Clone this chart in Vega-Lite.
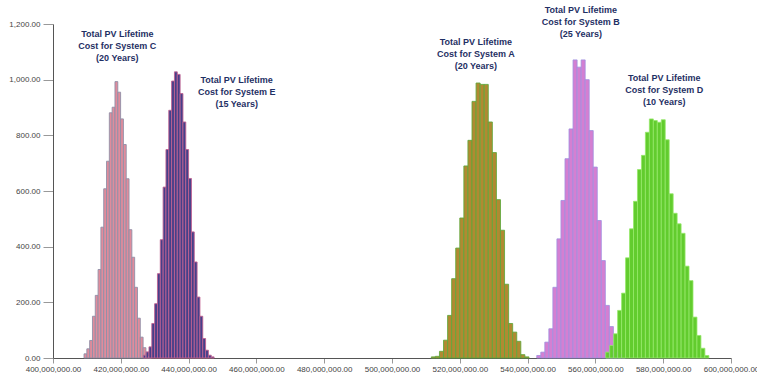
{
  "$schema": "https://vega.github.io/schema/vega-lite/v6.json",
  "width": 678,
  "height": 334,
  "autosize": {"type": "none"},
  "padding": {"left": 53, "top": 24, "right": 26, "bottom": 22},
  "background": "white",
  "config": {
    "view": {"stroke": null},
    "font": "Liberation Sans",
    "axis": {"grid": false, "labelFont": "Liberation Sans", "labelFontSize": 8, "labelColor": "#444444", "domainColor": "#555555", "tickColor": "#999999", "title": null}
  },
  "datasets": {
    "bins": [
      {"system": "C", "lo": 409150000, "hi": 409980000, "count": 15},
      {"system": "C", "lo": 409980000, "hi": 410810000, "count": 33},
      {"system": "C", "lo": 410810000, "hi": 411640000, "count": 63},
      {"system": "C", "lo": 411640000, "hi": 412470000, "count": 150},
      {"system": "C", "lo": 412470000, "hi": 413300000, "count": 225},
      {"system": "C", "lo": 413300000, "hi": 414130000, "count": 318},
      {"system": "C", "lo": 414130000, "hi": 414960000, "count": 470},
      {"system": "C", "lo": 414960000, "hi": 415790000, "count": 608},
      {"system": "C", "lo": 415790000, "hi": 416620000, "count": 707},
      {"system": "C", "lo": 416620000, "hi": 417450000, "count": 881},
      {"system": "C", "lo": 417450000, "hi": 418280000, "count": 901},
      {"system": "C", "lo": 418280000, "hi": 419110000, "count": 993},
      {"system": "C", "lo": 419110000, "hi": 419940000, "count": 955},
      {"system": "C", "lo": 419940000, "hi": 420770000, "count": 859},
      {"system": "C", "lo": 420770000, "hi": 421600000, "count": 767},
      {"system": "C", "lo": 421600000, "hi": 422430000, "count": 644},
      {"system": "C", "lo": 422430000, "hi": 423260000, "count": 461},
      {"system": "C", "lo": 423260000, "hi": 424090000, "count": 362},
      {"system": "C", "lo": 424090000, "hi": 424920000, "count": 254},
      {"system": "C", "lo": 424920000, "hi": 425750000, "count": 143},
      {"system": "C", "lo": 425750000, "hi": 426580000, "count": 75},
      {"system": "C", "lo": 426580000, "hi": 427410000, "count": 37},
      {"system": "C", "lo": 427410000, "hi": 428240000, "count": 15},
      {"system": "C", "lo": 428240000, "hi": 429070000, "count": 6},
      {"system": "E", "lo": 426640000, "hi": 427475000, "count": 10},
      {"system": "E", "lo": 427475000, "hi": 428310000, "count": 22},
      {"system": "E", "lo": 428310000, "hi": 429145000, "count": 40},
      {"system": "E", "lo": 429145000, "hi": 429980000, "count": 124},
      {"system": "E", "lo": 429980000, "hi": 430815000, "count": 195},
      {"system": "E", "lo": 430815000, "hi": 431650000, "count": 303},
      {"system": "E", "lo": 431650000, "hi": 432485000, "count": 425},
      {"system": "E", "lo": 432485000, "hi": 433320000, "count": 614},
      {"system": "E", "lo": 433320000, "hi": 434155000, "count": 749},
      {"system": "E", "lo": 434155000, "hi": 434990000, "count": 890},
      {"system": "E", "lo": 434990000, "hi": 435825000, "count": 995},
      {"system": "E", "lo": 435825000, "hi": 436660000, "count": 1028},
      {"system": "E", "lo": 436660000, "hi": 437495000, "count": 1019},
      {"system": "E", "lo": 437495000, "hi": 438330000, "count": 950},
      {"system": "E", "lo": 438330000, "hi": 439165000, "count": 848},
      {"system": "E", "lo": 439165000, "hi": 440000000, "count": 749},
      {"system": "E", "lo": 440000000, "hi": 440835000, "count": 645},
      {"system": "E", "lo": 440835000, "hi": 441670000, "count": 453},
      {"system": "E", "lo": 441670000, "hi": 442505000, "count": 345},
      {"system": "E", "lo": 442505000, "hi": 443340000, "count": 219},
      {"system": "E", "lo": 443340000, "hi": 444175000, "count": 150},
      {"system": "E", "lo": 444175000, "hi": 445010000, "count": 70},
      {"system": "E", "lo": 445010000, "hi": 445845000, "count": 28},
      {"system": "E", "lo": 445845000, "hi": 446680000, "count": 10},
      {"system": "E", "lo": 446680000, "hi": 447515000, "count": 4},
      {"system": "A", "lo": 511600000, "hi": 512800000, "count": 4},
      {"system": "A", "lo": 512800000, "hi": 514000000, "count": 6},
      {"system": "A", "lo": 514000000, "hi": 515200000, "count": 24},
      {"system": "A", "lo": 515200000, "hi": 516400000, "count": 64},
      {"system": "A", "lo": 516400000, "hi": 517600000, "count": 153},
      {"system": "A", "lo": 517600000, "hi": 518800000, "count": 285},
      {"system": "A", "lo": 518800000, "hi": 520000000, "count": 395},
      {"system": "A", "lo": 520000000, "hi": 521200000, "count": 503},
      {"system": "A", "lo": 521200000, "hi": 522400000, "count": 690},
      {"system": "A", "lo": 522400000, "hi": 523600000, "count": 782},
      {"system": "A", "lo": 523600000, "hi": 524800000, "count": 922},
      {"system": "A", "lo": 524800000, "hi": 526000000, "count": 988},
      {"system": "A", "lo": 526000000, "hi": 527200000, "count": 983},
      {"system": "A", "lo": 527200000, "hi": 528400000, "count": 983},
      {"system": "A", "lo": 528400000, "hi": 529600000, "count": 848},
      {"system": "A", "lo": 529600000, "hi": 530800000, "count": 738},
      {"system": "A", "lo": 530800000, "hi": 532000000, "count": 569},
      {"system": "A", "lo": 532000000, "hi": 533200000, "count": 459},
      {"system": "A", "lo": 533200000, "hi": 534400000, "count": 265},
      {"system": "A", "lo": 534400000, "hi": 535600000, "count": 124},
      {"system": "A", "lo": 535600000, "hi": 536800000, "count": 93},
      {"system": "A", "lo": 536800000, "hi": 538000000, "count": 60},
      {"system": "A", "lo": 538000000, "hi": 539200000, "count": 12},
      {"system": "A", "lo": 539200000, "hi": 540400000, "count": 4},
      {"system": "B", "lo": 542700000, "hi": 543890000, "count": 9},
      {"system": "B", "lo": 543890000, "hi": 545080000, "count": 21},
      {"system": "B", "lo": 545080000, "hi": 546270000, "count": 57},
      {"system": "B", "lo": 546270000, "hi": 547460000, "count": 105},
      {"system": "B", "lo": 547460000, "hi": 548650000, "count": 254},
      {"system": "B", "lo": 548650000, "hi": 549840000, "count": 428},
      {"system": "B", "lo": 549840000, "hi": 551030000, "count": 566},
      {"system": "B", "lo": 551030000, "hi": 552220000, "count": 716},
      {"system": "B", "lo": 552220000, "hi": 553410000, "count": 823},
      {"system": "B", "lo": 553410000, "hi": 554600000, "count": 1071},
      {"system": "B", "lo": 554600000, "hi": 555790000, "count": 1045},
      {"system": "B", "lo": 555790000, "hi": 556980000, "count": 1071},
      {"system": "B", "lo": 556980000, "hi": 558170000, "count": 1000},
      {"system": "B", "lo": 558170000, "hi": 559360000, "count": 817},
      {"system": "B", "lo": 559360000, "hi": 560550000, "count": 686},
      {"system": "B", "lo": 560550000, "hi": 561740000, "count": 494},
      {"system": "B", "lo": 561740000, "hi": 562930000, "count": 350},
      {"system": "B", "lo": 562930000, "hi": 564120000, "count": 189},
      {"system": "B", "lo": 564120000, "hi": 565310000, "count": 113},
      {"system": "B", "lo": 565310000, "hi": 566500000, "count": 51},
      {"system": "B", "lo": 566500000, "hi": 567690000, "count": 21},
      {"system": "B", "lo": 567690000, "hi": 568880000, "count": 13},
      {"system": "D", "lo": 563050000, "hi": 564220000, "count": 21},
      {"system": "D", "lo": 564220000, "hi": 565390000, "count": 45},
      {"system": "D", "lo": 565390000, "hi": 566560000, "count": 87},
      {"system": "D", "lo": 566560000, "hi": 567730000, "count": 171},
      {"system": "D", "lo": 567730000, "hi": 568900000, "count": 233},
      {"system": "D", "lo": 568900000, "hi": 570070000, "count": 360},
      {"system": "D", "lo": 570070000, "hi": 571240000, "count": 464},
      {"system": "D", "lo": 571240000, "hi": 572410000, "count": 563},
      {"system": "D", "lo": 572410000, "hi": 573580000, "count": 677},
      {"system": "D", "lo": 573580000, "hi": 574750000, "count": 728},
      {"system": "D", "lo": 574750000, "hi": 575920000, "count": 811},
      {"system": "D", "lo": 575920000, "hi": 577090000, "count": 859},
      {"system": "D", "lo": 577090000, "hi": 578260000, "count": 853},
      {"system": "D", "lo": 578260000, "hi": 579430000, "count": 847},
      {"system": "D", "lo": 579430000, "hi": 580600000, "count": 856},
      {"system": "D", "lo": 580600000, "hi": 581770000, "count": 784},
      {"system": "D", "lo": 581770000, "hi": 582940000, "count": 590},
      {"system": "D", "lo": 582940000, "hi": 584110000, "count": 520},
      {"system": "D", "lo": 584110000, "hi": 585280000, "count": 482},
      {"system": "D", "lo": 585280000, "hi": 586450000, "count": 448},
      {"system": "D", "lo": 586450000, "hi": 587620000, "count": 330},
      {"system": "D", "lo": 587620000, "hi": 588790000, "count": 278},
      {"system": "D", "lo": 588790000, "hi": 589960000, "count": 147},
      {"system": "D", "lo": 589960000, "hi": 591130000, "count": 81},
      {"system": "D", "lo": 591130000, "hi": 592300000, "count": 35},
      {"system": "D", "lo": 592300000, "hi": 593470000, "count": 9}
    ],
    "labels": [
      {"system": "C", "x": 418970000, "y": 1178, "label": "Total PV Lifetime\nCost for System C\n(20 Years)"},
      {"system": "E", "x": 454190000, "y": 1013, "label": "Total PV Lifetime\nCost for System E\n(15 Years)"},
      {"system": "A", "x": 524730000, "y": 1151, "label": "Total PV Lifetime\nCost for System A\n(20 Years)"},
      {"system": "B", "x": 555700000, "y": 1265, "label": "Total PV Lifetime\nCost for System B\n(25 Years)"},
      {"system": "D", "x": 580300000, "y": 1019, "label": "Total PV Lifetime\nCost for System D\n(10 Years)"}
    ]
  },
  "layer": [
    {
      "data": {"name": "bins"},
      "mark": {"type": "bar"},
      "encoding": {
        "x": {
          "field": "lo", "type": "quantitative",
          "scale": {"domain": [400000000, 600000000], "nice": false, "zero": false},
          "axis": {"values": [400000000, 420000000, 440000000, 460000000, 480000000, 500000000, 520000000, 540000000, 560000000, 580000000, 600000000], "format": ",.2f", "tickSize": 5, "labelPadding": 2, "labelOverlap": false, "labelFlush": false}
        },
        "x2": {"field": "hi"},
        "y": {
          "field": "count", "type": "quantitative",
          "scale": {"domain": [0, 1200], "nice": false},
          "axis": {"values": [0, 200, 400, 600, 800, 1000, 1200], "format": ",.2f", "tickSize": 10, "labelPadding": 3}
        },
        "y2": {"datum": 0},
        "fill": {
          "field": "system", "type": "nominal", "legend": null,
          "scale": {"domain": ["C", "E", "A", "B", "D"], "range": ["#e08c9c", "#45408a", "#b08a32", "#d47fd2", "#62cc2e"]}
        },
        "stroke": {
          "field": "system", "type": "nominal", "legend": null,
          "scale": {"domain": ["C", "E", "A", "B", "D"], "range": ["#9090a8", "#c06090", "#5ea83a", "#a090e0", "#96e86a"]}
        },
        "strokeWidth": {
          "field": "system", "type": "nominal", "legend": null,
          "scale": {"domain": ["C", "E", "A", "B", "D"], "range": [0.9, 0.8, 1.8, 1, 1]}
        },
        "order": {"field": "lo", "type": "quantitative"}
      }
    },
    {
      "data": {"name": "labels"},
      "mark": {"type": "text", "font": "Liberation Sans", "fontSize": 9, "fontWeight": "bold", "color": "#1f3064", "align": "center", "baseline": "top", "lineBreak": "\n", "lineHeight": 12},
      "encoding": {
        "x": {"field": "x", "type": "quantitative"},
        "y": {"field": "y", "type": "quantitative"},
        "text": {"field": "label"}
      }
    }
  ]
}
